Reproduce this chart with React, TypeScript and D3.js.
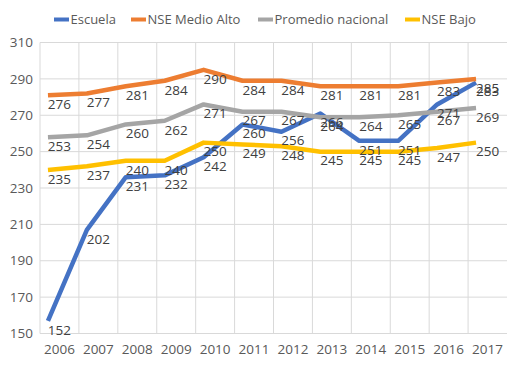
import { useRef, useEffect } from 'react'
import * as d3 from 'd3';

const years = ['2006', '2007', '2008', '2009', '2010', '2011', '2012', '2013', '2014', '2015', '2016', '2017'];

const escuela = [152, 202, 231, 232, 242, 260, 256, 266, 251, 251, 271, 283];
const nseMedioAlto = [276, 277, 281, 284, 290, 284, 284, 281, 281, 281, 283, 285];
const promedioNacional = [253, 254, 260, 262, 271, 267, 267, 264, 264, 265, 267, 269];
const nseBajo = [235, 237, 240, 240, 250, 249, 248, 245, 245, 245, 247, 250];

const yTicks = [150, 170, 190, 210, 230, 250, 270, 290, 310];

const seriesNames = ['Escuela', 'NSE Medio Alto', 'Promedio nacional', 'NSE Bajo'];
const seriesColors = ['#4472C4', '#ED7D31', '#A5A5A5', '#FFC000'];

function App() {

    const d3Container = useRef(null);

    const width = 519;
    const height = 368;

    useEffect(() => {

        const marginTop = 42.5;
        const marginRight = 12;
        const marginBottom = 34.5;
        const marginLeft = 40;
        const font = "'Open Sans', 'Noto Sans', sans-serif";

        const svg = d3.select(d3Container.current);
        svg.selectAll("*").remove();

        const x = d3.scaleBand()
                    .domain(years)
                    .range([marginLeft, width - marginRight]);

        const y = d3.scaleLinear()
                    .domain([150, 310])
                    .range([height - marginBottom, marginTop]);

        // grid
        const grid = svg.append("g")
                        .attr("stroke", "#D9D9D9")
                        .attr("stroke-width", 1);

        grid.selectAll("line.h")
            .data(yTicks)
            .join("line")
            .attr("class", "h")
            .attr("x1", marginLeft)
            .attr("x2", width - marginRight)
            .attr("y1", (d) => y(d))
            .attr("y2", (d) => y(d));

        grid.selectAll("line.v")
            .data(years)
            .join("line")
            .attr("class", "v")
            .attr("x1", (d) => x(d))
            .attr("x2", (d) => x(d))
            .attr("y1", marginTop)
            .attr("y2", height - marginBottom);

        // y labels
        svg.append("g")
           .selectAll("text")
           .data(yTicks)
           .join("text")
           .attr("x", marginLeft - 7)
           .attr("y", (d) => y(d))
           .attr("dy", "0.35em")
           .attr("text-anchor", "end")
           .attr("font-family", font)
           .attr("font-size", 13.5)
           .attr("fill", "#595959")
           .text((d) => d);

        // x labels
        svg.append("g")
           .selectAll("text")
           .data(years)
           .join("text")
           .attr("x", (d) => x(d) + x.bandwidth() / 2)
           .attr("y", height - marginBottom + 16)
           .attr("dy", "0.35em")
           .attr("text-anchor", "middle")
           .attr("font-family", font)
           .attr("font-size", 13.5)
           .attr("fill", "#595959")
           .text((d) => d);

        const allSeries = [escuela, nseMedioAlto, promedioNacional, nseBajo];

        // lines sit a bit up and left of their labels in the original
        const lineDx = -11.5;
        const lineDy = -9;

        const line = d3.line<number>()
                       .x((d, i) => x(years[i]) + x.bandwidth() / 2 + lineDx)
                       .y((d) => y(d) + lineDy);

        svg.append("g")
           .selectAll("path")
           .data(allSeries)
           .join("path")
           .attr("fill", "none")
           .attr("stroke", (d, i) => seriesColors[i])
           .attr("stroke-width", 4.5)
           .attr("stroke-linejoin", "round")
           .attr("d", (d) => line(d));

        // data labels
        allSeries.forEach((values) => {
            svg.append("g")
               .selectAll("text")
               .data(values)
               .join("text")
               .attr("x", (d, i) => x(years[i]) + x.bandwidth() / 2)
               .attr("y", (d) => y(d))
               .attr("dy", "0.35em")
               .attr("text-anchor", "middle")
               .attr("font-family", font)
               .attr("font-size", 13.5)
               .attr("fill", "#404040")
               .text((d) => d);
        });

        // legend
        const legendX = [54, 131, 258, 405];
        const legend = svg.append("g")
                          .selectAll("g")
                          .data(seriesNames)
                          .join("g")
                          .attr("transform", (d, i) => `translate(${legendX[i]},19.5)`);

        legend.append("line")
              .attr("x1", 0)
              .attr("x2", 15)
              .attr("stroke", (d, i) => seriesColors[i])
              .attr("stroke-width", 4);

        legend.append("text")
              .attr("x", 16.5)
              .attr("dy", "0.35em")
              .attr("font-family", font)
              .attr("font-size", 13)
              .attr("fill", "#595959")
              .text((d) => d);
    });

    return (
        <>
            <svg width={width}
                 height={height}
                 style={{ position: 'absolute', left: 0, top: 0, background: '#fff' }}
                 ref={d3Container} />
        </>
    )
}

export default App;
